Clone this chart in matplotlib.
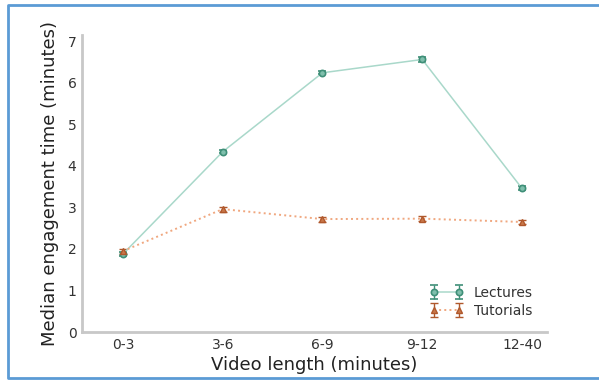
import matplotlib
matplotlib.use("Agg")
import matplotlib.pyplot as plt
import numpy as np
from matplotlib.lines import Line2D

matplotlib.rcParams['font.family'] = 'DejaVu Sans'

categories = ["0-3", "3-6", "6-9", "9-12", "12-40"]
lectures = [1.88, 4.34, 6.24, 6.56, 3.46]
lectures_err = [0.05, 0.04, 0.04, 0.06, 0.05]
tutorials = [1.95, 2.96, 2.72, 2.73, 2.65]
tutorials_err = [0.06, 0.06, 0.06, 0.06, 0.05]

# Colour palette
teal_line = "#a9d8ca"
teal_dark = "#3f8f78"
teal_face = "#7fbfac"
orange_line = "#f0a77f"
orange_dark = "#b0582c"
orange_face = "#c9784a"
spine_gray = "#c8c8c8"

fig = plt.figure(figsize=(5.99, 3.80), dpi=100)
ax = fig.add_axes([0.137, 0.126, 0.776, 0.782])

x = np.arange(len(categories))

ax.errorbar(x, lectures, yerr=lectures_err, color=teal_line, ecolor=teal_dark,
            marker='o', markersize=4.5, markerfacecolor=teal_face,
            markeredgecolor=teal_dark, markeredgewidth=1.2,
            linestyle='-', linewidth=1.1, capsize=3, elinewidth=1,
            label='Lectures')
ax.errorbar(x, tutorials, yerr=tutorials_err, color=orange_line,
            ecolor=orange_dark, marker='^', markersize=5,
            markerfacecolor=orange_face, markeredgecolor=orange_dark,
            linestyle=':', linewidth=1.4, capsize=3, elinewidth=1,
            label='Tutorials')

ax.set_xlim(-0.41, 4.25)
ax.set_ylim(0, 7.15)
ax.set_yticks(range(0, 8))
ax.set_xticks(x)
ax.set_xticklabels(categories)
ax.tick_params(length=0, labelsize=10, colors="#333333", pad=4)

ax.spines['right'].set_visible(False)
ax.spines['top'].set_visible(False)
for s in ['left', 'bottom']:
    ax.spines[s].set_color(spine_gray)
    ax.spines[s].set_linewidth(2)

ax.set_xlabel('Video length (minutes)', fontsize=13, color="#222222", labelpad=3)
ax.set_ylabel('Median engagement time (minutes)', fontsize=13, color="#222222",
              labelpad=6)

ax.legend(loc='lower right', frameon=False, numpoints=2, fontsize=10,
          handlelength=2.4, borderaxespad=0.6, labelspacing=0.3,
          labelcolor="#333333")

# blue frame on the left, top and bottom of the figure
frame_x = [1.0, 7.5 / 599, 7.5 / 599, 1.0]
frame_y = [1 - 4.5 / 380, 1 - 4.5 / 380, 2.5 / 380, 2.5 / 380]
fig.lines.append(Line2D(frame_x, frame_y, transform=fig.transFigure,
                        color="#5b9bd5", linewidth=2))

fig.savefig("out.png", dpi=100)
